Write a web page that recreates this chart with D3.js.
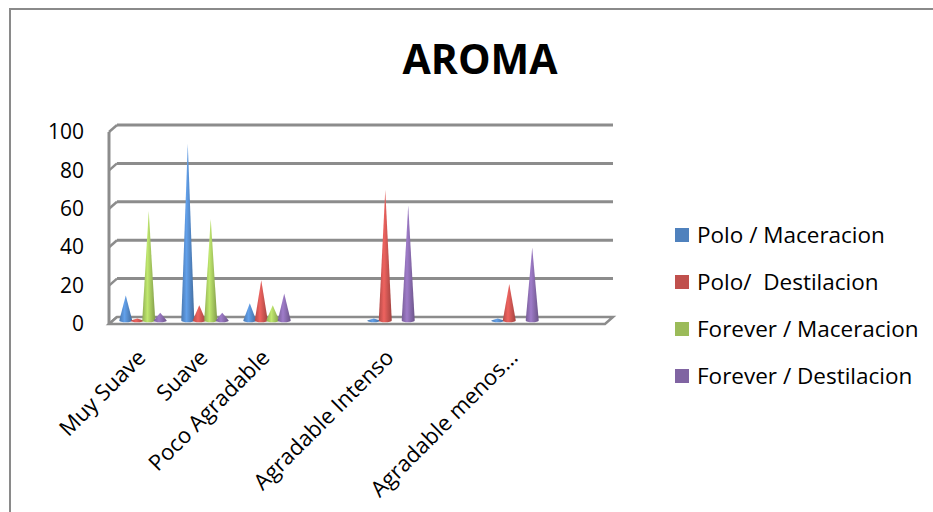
<!DOCTYPE html>
<html>
<head>
<meta charset="utf-8">
<script src="https://cdn.jsdelivr.net/npm/d3@7"></script>
<style>
  body { margin: 0; background: #fff; }
  svg { display: block; font-family: "Open Sans", sans-serif; }
</style>
</head>
<body>
<div id="chart"></div>
<script>
const categories = ["Muy Suave", "Suave", "Poco Agradable", "", "Agradable Intenso", "", "Agradable menos…", ""];
const seriesNames = ["Polo / Maceracion", "Polo/  Destilacion", "Forever / Maceracion", "Forever / Destilacion"];
const poloMaceracion = [13, 92, 9, 0, 1, 0, 1, 0];
const poloDestilacion = [1, 8, 21, 0, 68, 0, 19, 0];
const foreverMaceracion = [57, 53, 8, 0, 0, 0, 0, 0];
const foreverDestilacion = [4, 4, 14, 0, 60, 0, 38, 0];
const yTicks = [0, 20, 40, 60, 80, 100];
const colors = ["#4F81BD", "#C0504D", "#9BBB59", "#8064A2"];

const seriesValues = [poloMaceracion, poloDestilacion, foreverMaceracion, foreverDestilacion];

const width = 933, height = 512;
const depthX = 8, depthY = 7;   // 3D offset of the back wall

const svg = d3.select("#chart").append("svg")
  .attr("width", width)
  .attr("height", height);

// outer chart border
svg.append("rect")
  .attr("x", 10).attr("y", 9)
  .attr("width", 960).attr("height", 540)
  .attr("fill", "none")
  .attr("stroke", "#8a8a8a")
  .attr("stroke-width", 2);

svg.append("text")
  .attr("x", 480)
  .attr("y", 74)
  .attr("text-anchor", "middle")
  .attr("font-size", "41px")
  .attr("font-weight", "700")
  .attr("fill", "#000")
  .text("AROMA");

// scales: back wall, data plane in the middle of the depth
const yBack = d3.scaleLinear().domain([0, 100]).range([317, 125]);
const yMid = d3.scaleLinear().domain([0, 100]).range([317 + depthY / 2, 125 + depthY / 2]);
const yFront = d3.scaleLinear().domain([0, 100]).range([317 + depthY, 125 + depthY]);

const x0 = d3.scaleBand()
  .domain(d3.range(categories.length))
  .range([112, 608]);

const x1 = d3.scaleBand()
  .domain(d3.range(seriesNames.length))
  .range([0, x0.bandwidth()])
  .paddingOuter(0.7);

const wallLeft = 117, wallRight = 613;
const grey = "#8c8c8c";

// gridlines on back wall + side wall slants
const grid = svg.append("g");
yTicks.forEach(t => {
  if (t > 0) {
    grid.append("line")
      .attr("x1", wallLeft).attr("x2", wallRight)
      .attr("y1", yBack(t)).attr("y2", yBack(t))
      .attr("stroke", grey).attr("stroke-width", 3);
  }
  grid.append("line")
    .attr("x1", wallLeft - depthX).attr("y1", yBack(t) + depthY)
    .attr("x2", wallLeft).attr("y2", yBack(t))
    .attr("stroke", grey).attr("stroke-width", 2.5);
});

// left wall front edge
grid.append("line")
  .attr("x1", wallLeft - depthX).attr("x2", wallLeft - depthX)
  .attr("y1", yFront(100)).attr("y2", yFront(0))
  .attr("stroke", grey).attr("stroke-width", 3);

// floor
grid.append("path")
  .attr("d", `M${wallLeft},${yBack(0)} L${wallRight},${yBack(0)} L${wallRight - depthX},${yFront(0)} L${wallLeft - depthX},${yFront(0)} Z`)
  .attr("fill", "#fff")
  .attr("stroke", grey)
  .attr("stroke-width", 2.5);

// gradients for cones
const defs = svg.append("defs");
colors.forEach((c, i) => {
  const grad = defs.append("linearGradient")
    .attr("id", "cone" + i)
    .attr("x1", 0).attr("x2", 1).attr("y1", 0).attr("y2", 0);
  grad.append("stop").attr("offset", "0%").attr("stop-color", d3.color(c).darker(0.2));
  grad.append("stop").attr("offset", "40%").attr("stop-color", d3.color(c).brighter(0.6));
  grad.append("stop").attr("offset", "100%").attr("stop-color", d3.color(c).darker(0.5));
});

// cones
const r = 6.5, ry = 1.8;
const cones = svg.append("g");
categories.forEach((cat, ci) => {
  seriesValues.forEach((vals, si) => {
    const v = vals[ci];
    if (!v) return;
    const cx = x0(ci) + x1(si) + x1.bandwidth() / 2;
    const base = yMid(0);
    const tip = yMid(v);
    cones.append("path")
      .attr("d", `M${cx},${tip} L${cx + r},${base} A${r},${ry} 0 0 1 ${cx - r},${base} Z`)
      .attr("fill", `url(#cone${si})`);
  });
});

// y axis labels (front edge)
const yAxis = svg.append("g")
  .attr("transform", "translate(84,0)")
  .call(d3.axisLeft(yFront).tickValues(yTicks).tickSize(0).tickPadding(0));
yAxis.select(".domain").remove();
yAxis.selectAll("text")
  .attr("font-family", "Open Sans")
  .attr("font-size", "21px")
  .attr("fill", "#000");

// category labels
const xAxis = svg.append("g")
  .attr("transform", "translate(0,359)")
  .call(d3.axisBottom(x0).tickFormat(i => categories[i]).tickSize(0).tickPadding(0));
xAxis.select(".domain").remove();
xAxis.selectAll("text")
  .attr("font-family", "Open Sans")
  .attr("font-size", "22px")
  .attr("fill", "#000")
  .attr("y", 0)
  .attr("dy", 0)
  .attr("text-anchor", "end")
  .attr("transform", "translate(4,0) rotate(-45)");

// legend
const legend = svg.append("g").attr("transform", "translate(675,235)");
seriesNames.forEach((name, i) => {
  const row = legend.append("g").attr("transform", `translate(0,${i * 47})`);
  row.append("rect")
    .attr("x", 0).attr("y", -7)
    .attr("width", 14).attr("height", 14)
    .attr("fill", colors[i]);
  row.append("text")
    .attr("x", 22)
    .attr("y", 0)
    .attr("dy", "0.36em")
    .attr("font-size", "22.5px")
    .attr("fill", "#000")
    .style("white-space", "pre")
    .text(name);
});
</script>
</body>
</html>
